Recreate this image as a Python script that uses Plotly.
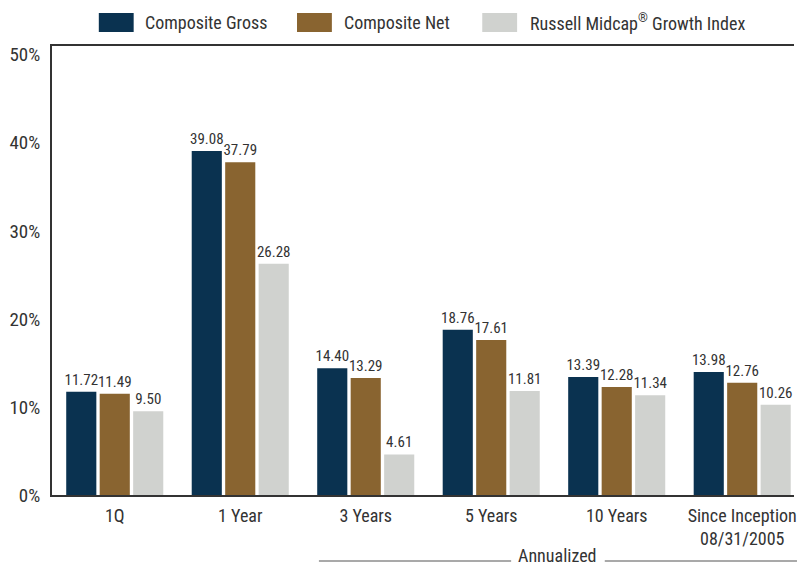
import plotly.graph_objects as go

categories = ["1Q", "1 Year", "3 Years", "5 Years", "10 Years", "Since Inception<br>08/31/2005"]
composite_gross = [11.72, 39.08, 14.40, 18.76, 13.39, 13.98]
composite_net = [11.49, 37.79, 13.29, 17.61, 12.28, 12.76]
russell_index = [9.50, 26.28, 4.61, 11.81, 11.34, 10.26]
series_names = ["Composite Gross", "Composite Net", "Russell Midcap<sup>®</sup> Growth Index"]
tick_values = [0, 10, 20, 30, 40, 50]
tick_labels = ["0%", "10%", "20%", "30%", "40%", "50%"]

colors = ["#0A3250", "#896430", "#D0D2CF"]
FONT = "Roboto Condensed, Liberation Sans Narrow, sans-serif"
TXT = "#333333"

W, H = 797, 565
L, T, B = 52, 46, 495

def px2x(px):
    return (px - L) / (W - L)

def py2y(py):
    return (B - py) / (B - T)

fig = go.Figure()
for name, vals, col in zip(series_names, [composite_gross, composite_net, russell_index], colors):
    fig.add_trace(go.Bar(
        x=list(range(len(categories))), y=vals, name=name, marker_color=col,
        marker_line_width=0,
        texttemplate="%{y:.2f}", textposition="outside",
        textfont=dict(family=FONT, size=15, color=TXT),
        constraintext="none", cliponaxis=False, showlegend=False,
    ))

# legend drawn manually with large swatches
legend_pos = [(99, 143), (298, 343), (484, 530)]
for (sx, tx), name, col in zip(legend_pos, series_names, colors):
    fig.add_shape(type="rect", xref="paper", yref="paper",
                  x0=px2x(sx), x1=px2x(sx + 35), y0=py2y(32), y1=py2y(13),
                  fillcolor=col, line_width=0)
    fig.add_annotation(xref="paper", yref="paper", x=px2x(tx), y=py2y(22),
                       xanchor="left", yanchor="middle", text=name, showarrow=False,
                       font=dict(family=FONT, size=18, color=TXT))

# Annualized bracket
fig.add_annotation(xref="paper", yref="paper", x=px2x(560), y=py2y(555),
                   xanchor="center", yanchor="middle", text="Annualized", showarrow=False,
                   font=dict(family=FONT, size=18, color=TXT))
for x0, x1 in [(320, 513), (607, 800)]:
    fig.add_shape(type="line", xref="paper", yref="paper",
                  x0=px2x(x0), x1=px2x(x1), y0=py2y(561), y1=py2y(561),
                  line=dict(color="#555555", width=1.2))

fig.update_layout(
    width=W, height=H,
    margin=dict(l=L, r=0, t=T, b=H - B),
    barmode="group", bargap=0.2, bargroupgap=0.1,
    plot_bgcolor="white", paper_bgcolor="white",
    font=dict(family=FONT, color=TXT),
    xaxis=dict(
        tickmode="array", tickvals=list(range(len(categories))), ticktext=categories,
        range=[-0.5, -0.5 + (W - L) / 126.0],
        showline=True, linecolor="#333333", linewidth=2, mirror=True,
        showgrid=False, ticks="", ticklabeloverflow="allow",
        ticklabelstandoff=3,
        tickfont=dict(family=FONT, size=18, color=TXT),
        fixedrange=True,
    ),
    yaxis=dict(
        range=[0, 51], tickvals=tick_values, ticktext=tick_labels,
        showline=True, linecolor="#333333", linewidth=2, mirror=False,
        showgrid=False, zeroline=False, ticks="",
        ticklabelstandoff=6,
        tickfont=dict(family=FONT, size=19, color=TXT),
    ),
)

fig.write_html("out.html")
